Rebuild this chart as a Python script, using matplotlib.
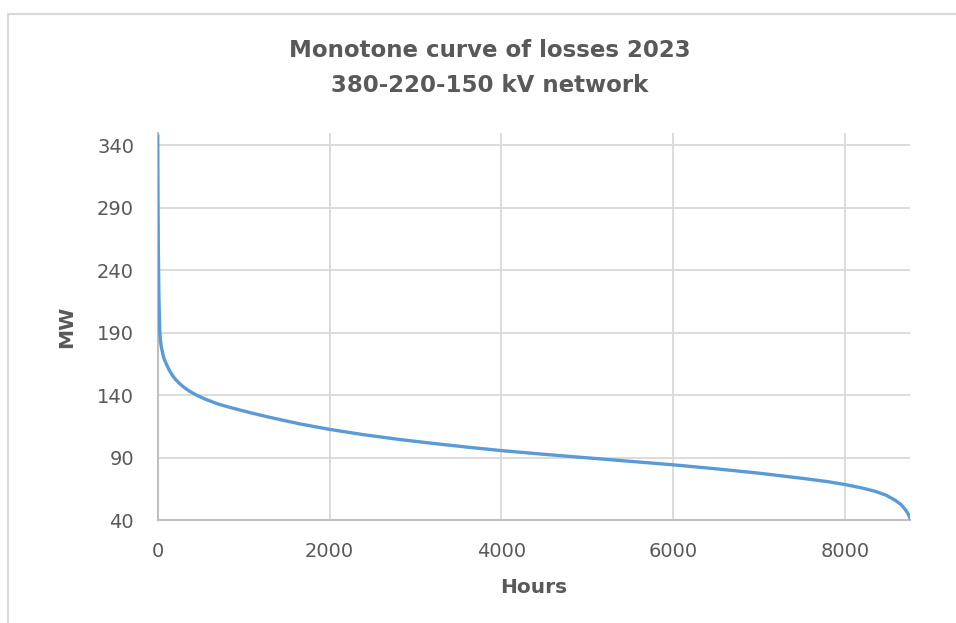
import matplotlib
matplotlib.use("Agg")
import matplotlib.pyplot as plt
from matplotlib.patches import Rectangle

hours = [0, 2, 4, 7, 10, 14, 19, 25, 32, 40, 50, 70, 100, 135, 170, 200, 250, 300,
         370, 452, 560, 700, 850, 1075, 1300, 1653, 2000, 2400, 2815, 3200, 3600,
         4000, 4500, 5000, 5500, 6000, 6500, 7000, 7500, 7800, 8000, 8200, 8350,
         8480, 8580, 8650, 8700, 8730, 8750, 8760]
mw = [349, 320, 290, 260, 240, 220, 205, 190, 184, 179.5, 176, 170, 165, 160,
      156, 153.2, 149.6, 146.6, 143.2, 140, 136.6, 133, 130, 126, 122.3, 117,
      112.6, 108.3, 104.5, 101.4, 98.4, 95.6, 92.6, 89.8, 87.0, 84.2, 81.0,
      77.5, 73.4, 70.7, 68.4, 65.6, 63, 59.8, 56, 52.5, 48.5, 45.5, 42.5, 40.5]

title = "Monotone curve of losses 2023\n380-220-150 kV network"
xticks = [0, 2000, 4000, 6000, 8000]
yticks = [40, 90, 140, 190, 240, 290, 340]

plt.rcParams['font.family'] = ['DejaVu Sans']
txt = '#595959'
grid = '#d9d9d9'

fig = plt.figure(figsize=(9.56, 6.23), dpi=100)
fig.patches.append(Rectangle((7.5/956, -0.1), 1.2, 1 - 14/623 + 0.1,
                             transform=fig.transFigure, fill=False,
                             edgecolor=grid, linewidth=1.5))
ax = fig.add_axes([157.7/956, 1 - 520/623, (910.3 - 157.7)/956, (520 - 133)/623])

ax.plot(hours, mw, color='#5B9BD5', linewidth=2.4, solid_capstyle='butt', zorder=3)
ax.set_xlim(0, 8760)
ax.set_ylim(40, 350)
ax.set_xticks(xticks)
ax.set_yticks(yticks)
ax.grid(True, color=grid, linewidth=1.3)
ax.set_axisbelow(True)
for s in ['top', 'right']:
    ax.spines[s].set_visible(False)
for s in ['left', 'bottom']:
    ax.spines[s].set_color('#bfbfbf')
    ax.spines[s].set_linewidth(1.5)
ax.tick_params(length=0, labelsize=14, colors=txt)
ax.tick_params(axis='x', pad=16)
ax.tick_params(axis='y', pad=17)
ax.set_xlabel('Hours', fontsize=14.5, fontweight='bold', color=txt, labelpad=12)
ax.set_ylabel('MW', fontsize=14.5, fontweight='bold', color=txt, labelpad=15)
fig.text(490/956, 1 - 68/623, title, ha='center', va='center', fontsize=16.5,
         fontweight='bold', color=txt, linespacing=1.65)

fig.savefig('out.png', dpi=100)
